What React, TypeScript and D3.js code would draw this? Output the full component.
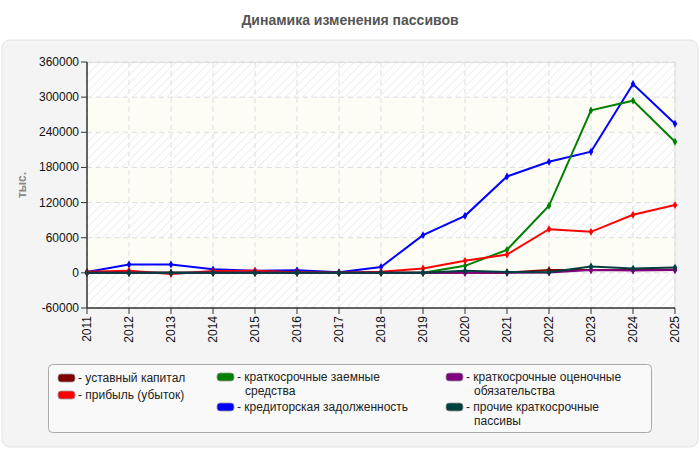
import React from "react";
import * as d3 from "d3";

const years = [2011, 2012, 2013, 2014, 2015, 2016, 2017, 2018, 2019, 2020, 2021, 2022, 2023, 2024, 2025];
const yTicks = [-60000, 0, 60000, 120000, 180000, 240000, 300000, 360000];

const ustavCapital = [300, 300, 300, 300, 300, 300, 300, 300, 300, 300, 300, 5000, 5000, 5000, 5100];
const profit = [2000, 3500, -2000, 3000, 3500, 1000, 0, 2000, 7400, 20500, 31300, 74600, 70000, 99100, 115700];
const shortLoans = [0, 0, 0, 0, 0, 0, 0, 0, 0, 12000, 39300, 114500, 277400, 294000, 223900];
const payables = [1500, 14200, 14200, 6000, 3500, 4600, 1000, 10000, 64400, 97400, 164600, 189700, 206800, 322500, 254600];
const estimated = [0, 0, 0, 0, 0, 0, 0, 0, 0, 0, 0, 500, 5000, 4000, 5000];
const otherLiab = [0, 0, 0, 0, 0, 0, 0, 0, 0, 3400, 1500, 1000, 11000, 7300, 9000];

const seriesNames = [
  "уставный капитал",
  "прибыль (убыток)",
  "краткосрочные заемные средства",
  "кредиторская задолженность",
  "краткосрочные оценочные обязательства",
  "прочие краткосрочные пассивы",
];
const seriesColors = ["#800000", "#ff0000", "#008000", "#0000ff", "#800080", "#004040"];
const seriesValues = [ustavCapital, profit, shortLoans, payables, estimated, otherLiab];

const FONT = "'Liberation Sans', Arial, sans-serif";

export default function App() {
  const left = 87, right = 675, top = 62, bottom = 308;
  const x = d3.scaleLinear().domain([2011, 2025]).range([left, right]);
  const y = d3.scaleLinear().domain([-60000, 360000]).range([bottom, top]);
  const line = d3
    .line<number>()
    .x((_, i) => x(years[i]))
    .y((d) => y(d));
  const marker = d3.symbol().type(d3.symbolDiamond).size(18)();

  const drawOrder = [3, 2, 1, 0, 4, 5];

  const legendItems = [
    { s: 0, x: 58, y: 379, lines: ["уставный капитал"] },
    { s: 1, x: 58, y: 396, lines: ["прибыль (убыток)"] },
    { s: 2, x: 217, y: 378, lines: ["краткосрочные заемные", "средства"] },
    { s: 3, x: 217, y: 408, lines: ["кредиторская задолженность"] },
    { s: 4, x: 446, y: 378, lines: ["краткосрочные оценочные", "обязательства"] },
    { s: 5, x: 446, y: 408, lines: ["прочие краткосрочные", "пассивы"] },
  ];

  return (
    <svg width={700} height={450} style={{ position: "absolute", left: 0, top: 0, fontFamily: FONT }}>
      <defs>
        <pattern id="hatch" width="6" height="6" patternUnits="userSpaceOnUse" patternTransform="rotate(45)">
          <rect width="6" height="6" fill="#ffffff" />
          <line x1="0" y1="0" x2="0" y2="6" stroke="#eeeeee" strokeWidth="2" />
        </pattern>
        <clipPath id="plotClip">
          <rect x={left} y={top} width={right - left} height={bottom - top} />
        </clipPath>
      </defs>
      <rect x={0} y={0} width={700} height={450} fill="#ffffff" />
      <text x={350} y={25} textAnchor="middle" fontSize={14} fontWeight="bold" fill="#555">
        Динамика изменения пассивов
      </text>
      <rect x={2} y={40} width={696} height={407} rx={8} fill="#f4f4f4" stroke="#e2e2e2" />

      {/* bands */}
      {yTicks.slice(0, -1).map((t, i) => (
        <rect
          key={t}
          x={left}
          y={y(yTicks[i + 1])}
          width={right - left}
          height={y(t) - y(yTicks[i + 1])}
          fill={i % 2 === 0 ? "url(#hatch)" : "#fdfdf6"}
        />
      ))}
      {/* grid */}
      {yTicks.map((t) => (
        <line key={"gy" + t} x1={left} x2={right} y1={y(t)} y2={y(t)} stroke="#dcdcdc" strokeDasharray="5,4" />
      ))}
      {years.map((yr) => (
        <line key={"gx" + yr} x1={x(yr)} x2={x(yr)} y1={top} y2={bottom} stroke="#dcdcdc" strokeDasharray="5,4" />
      ))}
      <line x1={left} x2={right} y1={top + 0.5} y2={top + 0.5} stroke="#dddddd" />
      <line x1={right} x2={right} y1={top} y2={bottom} stroke="#dddddd" />

      {/* series */}
      {drawOrder.map((s) => (
        <g key={"s" + s}>
          <path d={line(seriesValues[s]) || ""} fill="none" stroke={seriesColors[s]} strokeWidth={2} />
          {seriesValues[s].map((v, i) => (
            <path key={i} d={marker || ""} transform={`translate(${x(years[i])},${y(v)})`} fill={seriesColors[s]} />
          ))}
        </g>
      ))}

      {/* axes */}
      <line x1={left} x2={left} y1={top} y2={bottom} stroke="#333" strokeWidth={1.5} />
      <line x1={left} x2={right} y1={bottom} y2={bottom} stroke="#333" strokeWidth={1.5} />
      {yTicks.map((t) => (
        <g key={"ty" + t}>
          <line x1={left - 6} x2={left} y1={y(t)} y2={y(t)} stroke="#333" />
          <text x={left - 8} y={y(t) + 4} textAnchor="end" fontSize={12} fill="#111">
            {t}
          </text>
        </g>
      ))}
      {years.map((yr) => (
        <g key={"tx" + yr}>
          <line x1={x(yr)} x2={x(yr)} y1={bottom} y2={bottom + 6} stroke="#333" />
          <text
            transform={`translate(${x(yr) + 4},${bottom + 8}) rotate(-90)`}
            textAnchor="end"
            fontSize={12}
            fill="#111"
          >
            {yr}
          </text>
        </g>
      ))}
      <text transform={`translate(26,185) rotate(-90)`} textAnchor="middle" fontSize={12} fontWeight="bold" fill="#888">
        тыс.
      </text>

      {/* legend */}
      <rect x={48.5} y={364.5} width={603} height={68} rx={4} fill="#f9f9f9" stroke="#aaaaaa" />
      {legendItems.map((it) => (
        <g key={"l" + it.s}>
          <rect x={it.x} y={it.y - 5} width={17} height={8} rx={3} fill={seriesColors[it.s]} stroke="#999" strokeWidth={0.8} />
          <text x={it.x + 20} y={it.y + 3} fontSize={12} fill="#222">
            {it.lines.map((ln, k) => (
              <tspan key={k} x={k === 0 ? it.x + 20 : it.x + 28} dy={k === 0 ? 0 : 14}>
                {k === 0 ? "- " + ln : ln}
              </tspan>
            ))}
          </text>
        </g>
      ))}
    </svg>
  );
}
